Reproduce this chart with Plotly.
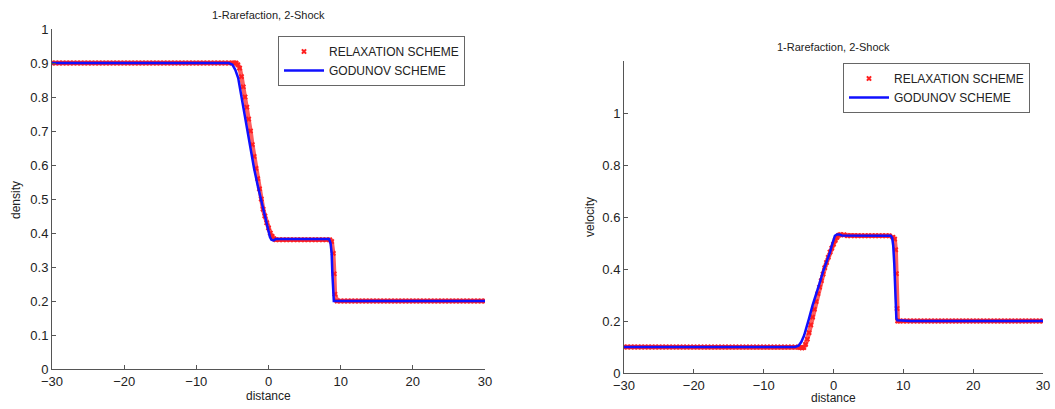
import plotly.graph_objects as go

# ---------------- shared x grid pieces (distance) ----------------
x_far_left = [-30.0, -29.5, -29.0, -28.5, -28.0, -27.5, -27.0, -26.5, -26.0, -25.5,
              -25.0, -24.5, -24.0, -23.5, -23.0, -22.5, -22.0, -21.5, -21.0, -20.5,
              -20.0, -19.5, -19.0, -18.5, -18.0, -17.5, -17.0, -16.5, -16.0, -15.5,
              -15.0, -14.5, -14.0, -13.5, -13.0, -12.5, -12.0, -11.5, -11.0, -10.5,
              -10.0, -9.5, -9.0, -8.5, -8.0, -7.5, -7.0, -6.5, -6.0, -5.5]
x_ramp = [-5.0, -4.75, -4.5, -4.25, -4.0, -3.75, -3.5, -3.25, -3.0, -2.75,
          -2.5, -2.25, -2.0, -1.75, -1.5, -1.25, -1.0, -0.75, -0.5, -0.25,
          0.0, 0.25, 0.5, 0.75, 1.0]
x_plateau = [1.5, 2.0, 2.5, 3.0, 3.5, 4.0, 4.5, 5.0, 5.5, 6.0, 6.5, 7.0, 7.5, 8.0, 8.5]
x_shock_density = [8.75, 8.97, 9.1, 9.2]
x_shock_velocity = [8.75, 8.9, 9.0, 9.1, 9.2]
x_far_right = [9.5, 10.0, 10.5, 11.0, 11.5, 12.0, 12.5, 13.0, 13.5, 14.0,
               14.5, 15.0, 15.5, 16.0, 16.5, 17.0, 17.5, 18.0, 18.5, 19.0,
               19.5, 20.0, 20.5, 21.0, 21.5, 22.0, 22.5, 23.0, 23.5, 24.0,
               24.5, 25.0, 25.5, 26.0, 26.5, 27.0, 27.5, 28.0, 28.5, 29.0,
               29.5, 30.0]

# ---------------- density: relaxation scheme (markers) ----------------
rho_rel_far_left = [0.9, 0.9, 0.9, 0.9, 0.9, 0.9, 0.9, 0.9, 0.9, 0.9,
                    0.9, 0.9, 0.9, 0.9, 0.9, 0.9, 0.9, 0.9, 0.9, 0.9,
                    0.9, 0.9, 0.9, 0.9, 0.9, 0.9, 0.9, 0.9, 0.9, 0.9,
                    0.9, 0.9, 0.9, 0.9, 0.9, 0.9, 0.9, 0.9, 0.9, 0.9,
                    0.9, 0.9, 0.9, 0.9, 0.9, 0.9, 0.9, 0.9, 0.9, 0.9]
rho_rel_ramp = [0.9, 0.9, 0.9, 0.895, 0.885, 0.86, 0.83, 0.80, 0.77, 0.735,
                0.70, 0.66, 0.625, 0.59, 0.56, 0.53, 0.50, 0.47, 0.45, 0.43,
                0.415, 0.40, 0.39, 0.383, 0.38]
rho_rel_plateau = [0.38, 0.38, 0.38, 0.38, 0.38, 0.38, 0.38, 0.38, 0.38, 0.38,
                   0.38, 0.38, 0.38, 0.38, 0.38]
rho_rel_shock = [0.375, 0.34, 0.28, 0.22]
rho_rel_far_right = [0.2, 0.2, 0.2, 0.2, 0.2, 0.2, 0.2, 0.2, 0.2, 0.2,
                     0.2, 0.2, 0.2, 0.2, 0.2, 0.2, 0.2, 0.2, 0.2, 0.2,
                     0.2, 0.2, 0.2, 0.2, 0.2, 0.2, 0.2, 0.2, 0.2, 0.2,
                     0.2, 0.2, 0.2, 0.2, 0.2, 0.2, 0.2, 0.2, 0.2, 0.2,
                     0.2, 0.2]

# ---------------- density: Godunov scheme (line) ----------------
rho_god_x = [-30.0, -5.5, -5.0, -4.6, -4.2, -3.9, -3.5, -3.0, -2.5, -2.0, -1.5,
             -1.0, -0.5, -0.25, 0.0, 0.2, 0.4, 0.7, 1.0, 8.4, 8.6, 8.75, 8.85,
             8.95, 9.05, 30.0]
rho_god_y = [0.9, 0.9, 0.895, 0.88, 0.856, 0.82, 0.77, 0.71, 0.645, 0.59, 0.54,
             0.495, 0.45, 0.425, 0.405, 0.388, 0.38, 0.378, 0.382, 0.382, 0.37,
             0.34, 0.28, 0.22, 0.2, 0.2]

# ---------------- velocity: relaxation scheme (markers) ----------------
u_rel_far_left = [0.1, 0.1, 0.1, 0.1, 0.1, 0.1, 0.1, 0.1, 0.1, 0.1,
                  0.1, 0.1, 0.1, 0.1, 0.1, 0.1, 0.1, 0.1, 0.1, 0.1,
                  0.1, 0.1, 0.1, 0.1, 0.1, 0.1, 0.1, 0.1, 0.1, 0.1,
                  0.1, 0.1, 0.1, 0.1, 0.1, 0.1, 0.1, 0.1, 0.1, 0.1,
                  0.1, 0.1, 0.1, 0.1, 0.1, 0.1, 0.1, 0.1, 0.1, 0.1]
u_rel_ramp = [0.1, 0.098, 0.096, 0.098, 0.11, 0.13, 0.155, 0.185, 0.215, 0.245,
              0.275, 0.305, 0.33, 0.355, 0.38, 0.405, 0.425, 0.445, 0.465, 0.48,
              0.495, 0.51, 0.522, 0.53, 0.532]
u_rel_plateau = [0.531, 0.528, 0.528, 0.528, 0.528, 0.528, 0.528, 0.528, 0.528,
                 0.528, 0.528, 0.528, 0.528, 0.528, 0.522]
u_rel_shock = [0.515, 0.474, 0.382, 0.248, 0.2]
u_rel_far_right = [0.2, 0.2, 0.2, 0.2, 0.2, 0.2, 0.2, 0.2, 0.2, 0.2,
                   0.2, 0.2, 0.2, 0.2, 0.2, 0.2, 0.2, 0.2, 0.2, 0.2,
                   0.2, 0.2, 0.2, 0.2, 0.2, 0.2, 0.2, 0.2, 0.2, 0.2,
                   0.2, 0.2, 0.2, 0.2, 0.2, 0.2, 0.2, 0.2, 0.2, 0.2,
                   0.2, 0.2]

# ---------------- velocity: Godunov scheme (line) ----------------
u_god_x = [-30.0, -5.5, -5.0, -4.6, -4.2, -3.9, -3.5, -3.0, -2.5, -2.0, -1.5,
           -1.0, -0.5, -0.25, 0.0, 0.2, 0.5, 0.8, 1.2, 8.2, 8.4, 8.55, 8.7,
           8.85, 9.0, 9.15, 11.0, 30.0]
u_god_y = [0.1, 0.1, 0.105, 0.12, 0.145, 0.17, 0.21, 0.26, 0.30, 0.345, 0.39,
           0.425, 0.465, 0.49, 0.515, 0.528, 0.533, 0.533, 0.529, 0.528, 0.52,
           0.49, 0.42, 0.3, 0.21, 0.203, 0.2, 0.2]

# ---------------- text ----------------
chart_title = "1-Rarefaction, 2-Shock"
name_rel = "RELAXATION SCHEME"
name_god = "GODUNOV SCHEME"
x_label = "distance"
y_label_left = "density"
y_label_right = "velocity"
x_ticks = [-30, -20, -10, 0, 10, 20, 30]
y_ticks_left = [0, 0.1, 0.2, 0.3, 0.4, 0.5, 0.6, 0.7, 0.8, 0.9, 1]
y_ticks_right = [0, 0.2, 0.4, 0.6, 0.8, 1]

rho_rel_x = x_far_left + x_ramp + x_plateau + x_shock_density + x_far_right
rho_rel_y = rho_rel_far_left + rho_rel_ramp + rho_rel_plateau + rho_rel_shock + rho_rel_far_right
u_rel_x = x_far_left + x_ramp + x_plateau + x_shock_velocity + x_far_right
u_rel_y = u_rel_far_left + u_rel_ramp + u_rel_plateau + u_rel_shock + u_rel_far_right

FONT = "Liberation Sans, Arial, sans-serif"
TXT = "#222222"
AX = "#555555"
RED = "#ff2020"
BLUE = "#1010ff"

W, H = 1055, 409

fig = go.Figure()

marker_style = dict(symbol="x", size=5, color=RED, line=dict(width=0))


def add_pair(rx, ry, gx, gy, xa, ya, leg):
    # soft red band made by the dense relaxation samples (no legend entry)
    fig.add_trace(go.Scatter(x=rx, y=ry, mode="lines", showlegend=False, hoverinfo="skip",
                             line=dict(color="rgba(255,40,40,0.75)", width=4.5),
                             xaxis=xa, yaxis=ya, legend=leg))
    fig.add_trace(go.Scatter(x=rx, y=ry, mode="markers", name=name_rel,
                             marker=marker_style, xaxis=xa, yaxis=ya, legend=leg))
    fig.add_trace(go.Scatter(x=gx, y=gy, mode="lines", name=name_god,
                             line=dict(color=BLUE, width=2.5), xaxis=xa, yaxis=ya,
                             legend=leg))


add_pair(rho_rel_x, rho_rel_y, rho_god_x, rho_god_y, "x", "y", "legend")
add_pair(u_rel_x, u_rel_y, u_god_x, u_god_y, "x2", "y2", "legend2")


def px_x(p):
    return p / W


def px_y(p):
    return 1 - p / H


axis_common = dict(showline=True, linecolor=AX, linewidth=1, ticks="inside",
                   ticklen=4, tickcolor=AX, showgrid=False, zeroline=False,
                   automargin=False,
                   tickfont=dict(family=FONT, size=13, color=TXT), mirror=False)

fig.update_layout(
    width=W, height=H,
    margin=dict(l=0, r=0, t=0, b=0, autoexpand=False),
    paper_bgcolor="white", plot_bgcolor="white",
    font=dict(family=FONT, color=TXT),
    xaxis=dict(domain=[px_x(52), px_x(485)], range=[-30, 30], tickvals=x_ticks,
               anchor="y", **axis_common),
    yaxis=dict(domain=[px_y(369), px_y(29)], range=[0, 1], tickvals=y_ticks_left,
               anchor="x", **axis_common),
    xaxis2=dict(domain=[px_x(624), px_x(1043)], range=[-30, 30], tickvals=x_ticks,
                anchor="y2", **axis_common),
    yaxis2=dict(domain=[px_y(373), px_y(61)], range=[0, 1.2], tickvals=y_ticks_right,
                anchor="x2", **axis_common),
    legend=dict(x=px_x(278), y=px_y(36), xanchor="left", yanchor="top",
                bgcolor="white", bordercolor="#666666", borderwidth=1,
                font=dict(family=FONT, size=12, color=TXT), itemwidth=40,
                tracegroupgap=0),
    legend2=dict(x=px_x(843), y=px_y(63), xanchor="left", yanchor="top",
                 bgcolor="white", bordercolor="#666666", borderwidth=1,
                 font=dict(family=FONT, size=12, color=TXT), itemwidth=40,
                 tracegroupgap=0),
    showlegend=True,
)

annos = [
    dict(text=chart_title, x=px_x(268), y=px_y(15), size=11, angle=0),
    dict(text=chart_title, x=px_x(833), y=px_y(47), size=11, angle=0),
    dict(text=x_label, x=px_x(268), y=px_y(396), size=12, angle=0),
    dict(text=x_label, x=px_x(833), y=px_y(398), size=12, angle=0),
    dict(text=y_label_left, x=px_x(16), y=px_y(200), size=12, angle=-90),
    dict(text=y_label_right, x=px_x(590), y=px_y(217), size=12, angle=-90),
]
for a in annos:
    fig.add_annotation(text=a["text"], x=a["x"], y=a["y"], xref="paper", yref="paper",
                       xanchor="center", yanchor="middle", showarrow=False,
                       textangle=a["angle"],
                       font=dict(family=FONT, size=a["size"], color=TXT))

fig.write_html("out.html",
               config={"displayModeBar": False},
               post_script="document.body.style.margin='0px';"
                           "document.body.style.overflow='hidden';")
